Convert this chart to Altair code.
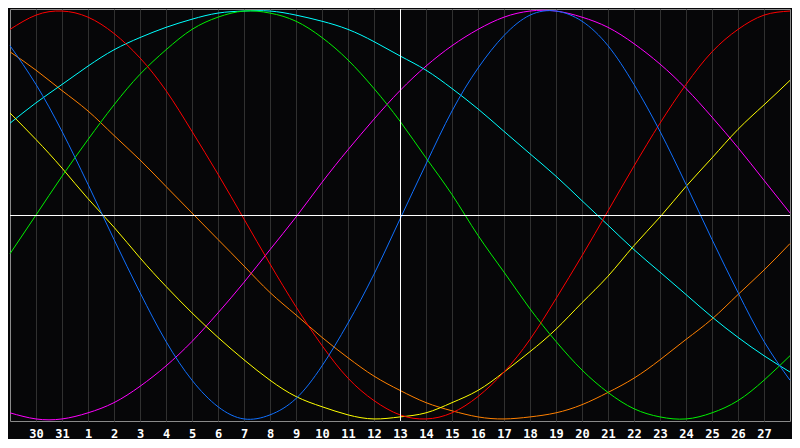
import altair as alt
import pandas as pd

# day offsets across the window (0 = left edge, 30 = right edge)
day_index = list(range(31))
# tick labels shown at offsets 1..29
day_labels = ["30", "31", "1", "2", "3", "4", "5", "6", "7", "8", "9", "10",
              "11", "12", "13", "14", "15", "16", "17", "18", "19", "20",
              "21", "22", "23", "24", "25", "26", "27"]
today_index = 15

physical = [83, 64, 41, 15, -12, -38, -62, -81, -94, -100, -98, -90, -74, -53, -29, -2,
            25, 51, 72, 88, 98, 100, 95, 83, 64, 41, 15, -12, -38, -62, -81]
emotional = [91, 98, 100, 97, 89, 77, 61, 41, 20, -2, -24, -45, -64, -80, -91, -98,
             -100, -97, -89, -77, -61, -41, -20, 2, 24, 45, 64, 80, 91, 98, 100]
intellectual = [-19, 0, 19, 37, 54, 69, 81, 91, 97, 100, 99, 95, 87, 76, 62, 46,
                28, 10, -10, -28, -46, -62, -76, -87, -95, -99, -100, -97, -91, -81, -69]
intuitive = [-97, -100, -100, -97, -92, -84, -74, -62, -48, -33, -17, -1, 16, 32, 47, 61,
             73, 83, 91, 97, 100, 100, 97, 92, 84, 74, 62, 48, 33, 17, 1]
aesthetic = [50, 37, 23, 8, -6, -21, -35, -48, -60, -71, -81, -89, -94, -98, -100, -99,
             -97, -92, -86, -77, -67, -56, -43, -30, -15, -1, 14, 28, 42, 54, 66]
awareness = [80, 71, 61, 51, 39, 27, 14, 1, -12, -25, -38, -49, -60, -70, -79, -86,
             -92, -96, -99, -100, -99, -97, -93, -87, -80, -71, -61, -51, -39, -27, -14]
spiritual = [45, 55, 64, 73, 81, 87, 92, 96, 99, 100, 100, 98, 95, 91, 85, 78,
             71, 62, 52, 41, 30, 19, 7, -5, -17, -28, -39, -50, -60, -69, -77]

series_names = ["Intuitive", "Awareness", "Spiritual", "Aesthetic",
                "Intellectual", "Emotional", "Physical"]
series_values = [intuitive, awareness, spiritual, aesthetic,
                 intellectual, emotional, physical]
series_colors = ["#ff00ff", "#ff8000", "#00ffff", "#ffff00",
                 "#00f000", "#ff0000", "#1070ff"]

rows = []
for name, vals in zip(series_names, series_values):
    for k, v in zip(day_index, vals):
        rows.append({"k": k, "v": v, "series": name})
df = pd.DataFrame(rows)

xs = alt.Scale(domain=[0, 30], nice=False, zero=False)
ys = alt.Scale(domain=[-101, 101], nice=False, zero=False)

label_expr = "[" + ",".join("'%s'" % d for d in day_labels) + "][datum.value - 1]"

x_axis = alt.Axis(values=list(range(1, 30)), labelExpr=label_expr,
                  grid=True, gridColor="#303030", gridWidth=1,
                  domain=False, ticks=False, title=None,
                  labelColor="white", labelFont="DejaVu Sans Mono",
                  labelFontWeight="bold", labelFontSize=12,
                  labelPadding=7, labelFlush=False, labelOverlap=False,
                  labelBound=False)

lines = alt.Chart(df).mark_line(strokeWidth=1, interpolate="natural").encode(
    x=alt.X("k:Q", scale=xs, axis=x_axis),
    y=alt.Y("v:Q", scale=ys, axis=None),
    color=alt.Color("series:N", scale=alt.Scale(domain=series_names, range=series_colors),
                    legend=None, sort=series_names),
)

hrule = alt.Chart(pd.DataFrame({"v": [0]})).mark_rule(
    color="white", strokeWidth=1, yOffset=0.5
).encode(
    y=alt.Y("v:Q", scale=ys, axis=None)
)
vrule = alt.Chart(pd.DataFrame({"k": [today_index]})).mark_rule(
    color="white", strokeWidth=1, xOffset=0.5
).encode(
    x=alt.X("k:Q", scale=xs, axis=x_axis)
)

chart = alt.layer(lines, hrule, vrule).properties(
    width=780, height=412, padding=0, background="#060608"
).configure_view(
    stroke="#8a8a8a", strokeWidth=1, fill="#060608"
).configure_axis(
    labelOverlap=False
)

chart.save("out.html", embed_options={"renderer": "svg", "actions": False})
